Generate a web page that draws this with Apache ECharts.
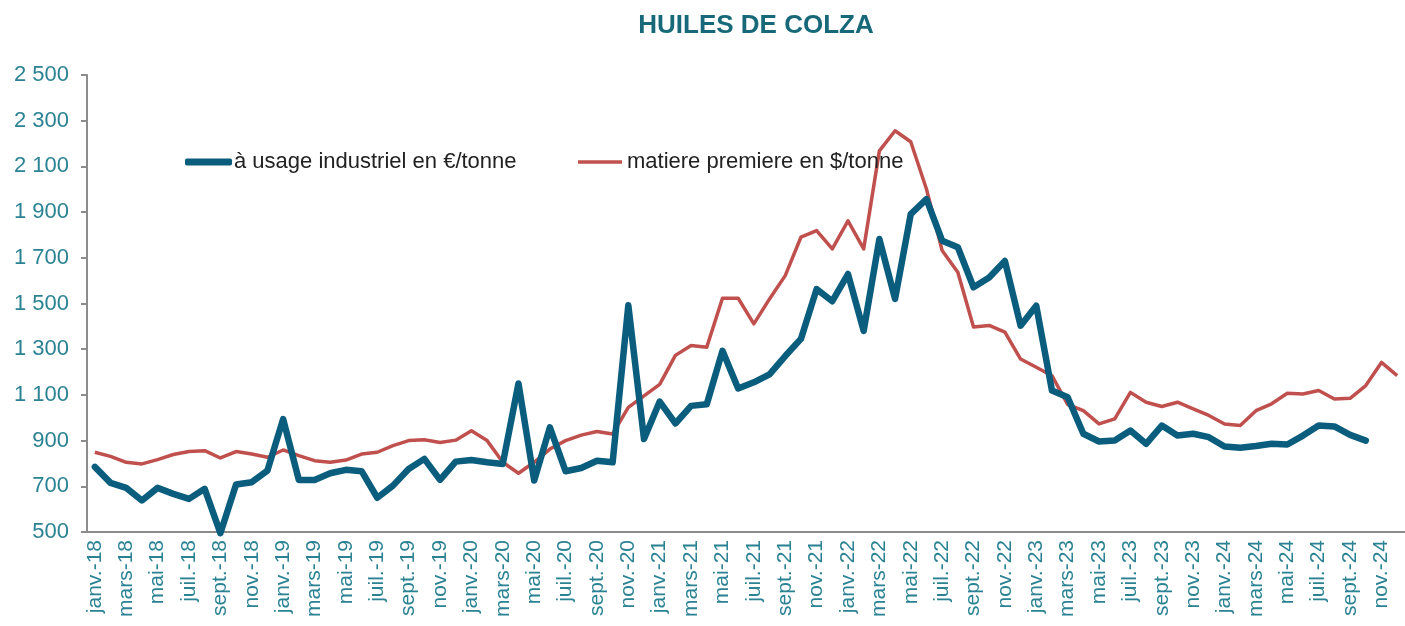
<!DOCTYPE html>
<html>
<head>
<meta charset="utf-8">
<script src="https://cdn.jsdelivr.net/npm/echarts@6/dist/echarts.min.js"></script>
<style>
  html, body { margin: 0; padding: 0; background: #fff; }
  #chart { width: 1405px; height: 626px; }
</style>
</head>
<body>
<div id="chart"></div>
<script>
// mois / années de l'axe
var months = ['janv.', 'févr.', 'mars', 'avr.', 'mai', 'juin', 'juil.', 'août', 'sept.', 'oct.', 'nov.', 'déc.'];
var years = ['18', '19', '20', '21', '22', '23', '24'];

// huile de colza à usage industriel en €/tonne
var industriel = [
  785, 715, 693, 638, 693, 667, 645, 689, 495, 708, 718, 769,
  994, 728, 728, 757, 772, 766, 650, 703, 776, 820, 728, 808,
  815, 805, 798, 1150, 725, 958, 766, 780, 812, 805, 1492, 907,
  1071, 975, 1052, 1059, 1293, 1128, 1155, 1190, 1270, 1345, 1563, 1510,
  1629, 1380, 1782, 1520, 1891, 1957, 1775, 1746, 1571, 1614, 1686, 1403,
  1490, 1119, 1090, 930, 896, 900, 944, 886, 966, 922, 930, 915,
  874, 869, 876, 886, 883, 922, 966, 962, 925, 900, null, null
];

// matiere premiere en $/tonne
var matiere = [
  849, 831, 805, 798, 817, 839, 852, 856, 824, 852, 841, 827,
  859, 834, 812, 805, 815, 841, 849, 878, 900, 904, 892, 902,
  943, 900, 805, 757, 805, 863, 900, 924, 940, 929, 1045, 1096,
  1146, 1273, 1316, 1309, 1523, 1523, 1411, 1520, 1622, 1790, 1819, 1739,
  1862, 1739, 2168, 2256, 2208, 2001, 1732, 1637, 1397, 1404, 1375, 1257,
  1221, 1184, 1058, 1031, 973, 995, 1111, 1068, 1049, 1068, 1039, 1010,
  973, 966, 1031, 1061, 1107, 1104, 1119, 1082, 1085, 1141, 1242, 1184
];

var categories = [];
years.forEach(function (y) {
  months.forEach(function (m) {
    categories.push(m + '-' + y);
  });
});

var blue = '#0b5d7e';
var red = '#c0504d';
var teal = '#2b8293';
var font = 'Liberation Sans, Arial, sans-serif';

var myChart = echarts.init(document.getElementById('chart'));
myChart.setOption({
  animation: false,
  title: {
    text: 'HUILES DE COLZA',
    left: 751,
    textAlign: 'center',
    top: 8,
    textStyle: { color: '#17697a', fontSize: 26, fontWeight: 'bold', fontFamily: font }
  },
  // deux légendes pour avoir deux épaisseurs de trait
  legend: [
    {
      left: 180,
      top: 146,
      icon: 'roundRect',
      itemWidth: 47,
      itemHeight: 7,
      textStyle: { color: '#222', fontSize: 22, fontFamily: font, padding: [0, 0, 0, -3] },
      data: ['à usage industriel en €/tonne']
    },
    {
      left: 573,
      top: 146,
      icon: 'rect',
      itemWidth: 44,
      itemHeight: 3.5,
      textStyle: { color: '#222', fontSize: 22, fontFamily: font },
      data: ['matiere premiere en $/tonne']
    }
  ],
  grid: { left: 87, top: 75, width: 1325, height: 457 },
  xAxis: {
    type: 'category',
    data: categories,
    boundaryGap: true,
    axisLine: { lineStyle: { color: '#8c8c8c', width: 2 } },
    axisTick: { interval: 1, length: 6, lineStyle: { color: '#8c8c8c', width: 2 } },
    axisLabel: {
      interval: 1,
      rotate: 90,
      margin: 8,
      color: teal,
      fontSize: 21,
      fontFamily: font
    }
  },
  yAxis: {
    type: 'value',
    min: 500,
    max: 2500,
    interval: 200,
    axisLine: { show: true, lineStyle: { color: '#8c8c8c', width: 2 } },
    axisTick: { show: true, length: 6, lineStyle: { color: '#8c8c8c', width: 2 } },
    splitLine: { show: false },
    axisLabel: {
      margin: 18,
      color: teal,
      fontSize: 22,
      fontFamily: font,
      formatter: function (v) {
        return String(v).replace(/\B(?=(\d{3})+(?!\d))/g, ' ');
      }
    }
  },
  series: [
    {
      name: 'à usage industriel en €/tonne',
      type: 'line',
      data: industriel,
      symbol: 'none',
      clip: false,
      lineStyle: { color: blue, width: 6.5, cap: 'round', join: 'round' },
      itemStyle: { color: blue },
      z: 3
    },
    {
      name: 'matiere premiere en $/tonne',
      type: 'line',
      data: matiere,
      symbol: 'none',
      lineStyle: { color: red, width: 3.5, join: 'round' },
      itemStyle: { color: red },
      z: 2
    }
  ]
});
</script>
</body>
</html>
